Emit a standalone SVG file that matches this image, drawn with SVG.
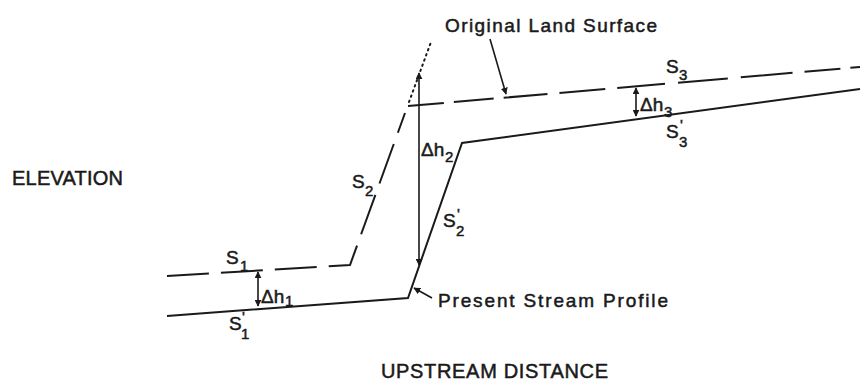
<svg xmlns="http://www.w3.org/2000/svg" width="861" height="382" viewBox="0 0 861 382">
<style>
.ln{fill:none;stroke:#1a1a1a;stroke-width:2;stroke-linejoin:miter}
.dash{stroke-dasharray:42 12}
.thin{fill:none;stroke:#1a1a1a;stroke-width:1.6}
.dot{fill:none;stroke:#1a1a1a;stroke-width:2;stroke-dasharray:1.5 4;stroke-linecap:round}
text{font-family:"Liberation Sans",Arial,sans-serif;fill:#1a1a1a;stroke:#1a1a1a;stroke-width:0.5}
.lab{font-size:19px}
.big{font-size:20px}
.s{font-size:19px}
.sub{font-size:15px}
</style>
<defs>
<marker id="ah" viewBox="0 0 10 10" refX="9" refY="5" markerWidth="7" markerHeight="7" markerUnits="userSpaceOnUse" orient="auto-start-reverse">
<path d="M0,0 L10,5 L0,10 Z" fill="#1a1a1a"/>
</marker>
</defs>
<g id="original-surface">
<polyline class="ln dash" points="167,276 350,265 405,113"/>
<line class="dot" x1="409" y1="102" x2="431" y2="42"/>
<line class="ln" x1="408" y1="106" x2="860" y2="67" style="stroke-dasharray:36 10 40 10 44 12 46 12 48 13 50 13 52 12"/>
</g>
<g id="present-profile">
<polyline class="ln" points="167,316 408,298 462,143 860,89"/>
</g>
<g id="connectors">
<line class="thin" x1="258" y1="272" x2="258" y2="306" marker-start="url(#ah)" marker-end="url(#ah)"/>
<line class="thin" x1="419" y1="73" x2="419" y2="265" marker-start="url(#ah)" marker-end="url(#ah)"/>
<line class="thin" x1="636" y1="88" x2="636" y2="116" marker-start="url(#ah)" marker-end="url(#ah)"/>
<line class="thin" x1="490" y1="39" x2="506" y2="94" marker-end="url(#ah)"/>
<line class="thin" x1="432" y1="298" x2="414" y2="288" marker-end="url(#ah)"/>
</g>
<g id="labels">
<text class="lab" x="445" y="32" textLength="212" lengthAdjust="spacing">Original Land Surface</text>
<text class="lab" x="438" y="307" textLength="230" lengthAdjust="spacing">Present Stream Profile</text>
<text class="big" x="12" y="185" textLength="111" lengthAdjust="spacing">ELEVATION</text>
<text class="big" x="381" y="378" textLength="227" lengthAdjust="spacing">UPSTREAM DISTANCE</text>
<text class="s" x="226" y="264">S<tspan class="sub" x="240" y="271">1</tspan></text>
<text class="s" x="229" y="330">S<tspan class="sub" x="242" y="322">'</tspan><tspan class="sub" x="241" y="339">1</tspan></text>
<text class="s" x="352" y="188">S<tspan class="sub" x="365" y="196">2</tspan></text>
<text class="s" x="443" y="227">S<tspan class="sub" x="457" y="219">'</tspan><tspan class="sub" x="456" y="236">2</tspan></text>
<text class="s" x="666" y="73">S<tspan class="sub" x="679" y="80">3</tspan></text>
<text class="s" x="666" y="138">S<tspan class="sub" x="680" y="130">'</tspan><tspan class="sub" x="679" y="147">3</tspan></text>
<text class="s" x="261" y="303">Δh<tspan class="sub" x="285" y="306">1</tspan></text>
<text class="s" x="421" y="156">Δh<tspan class="sub" x="445" y="162">2</tspan></text>
<text class="s" x="640" y="111">Δh<tspan class="sub" x="664" y="117">3</tspan></text>
</g>
</svg>
